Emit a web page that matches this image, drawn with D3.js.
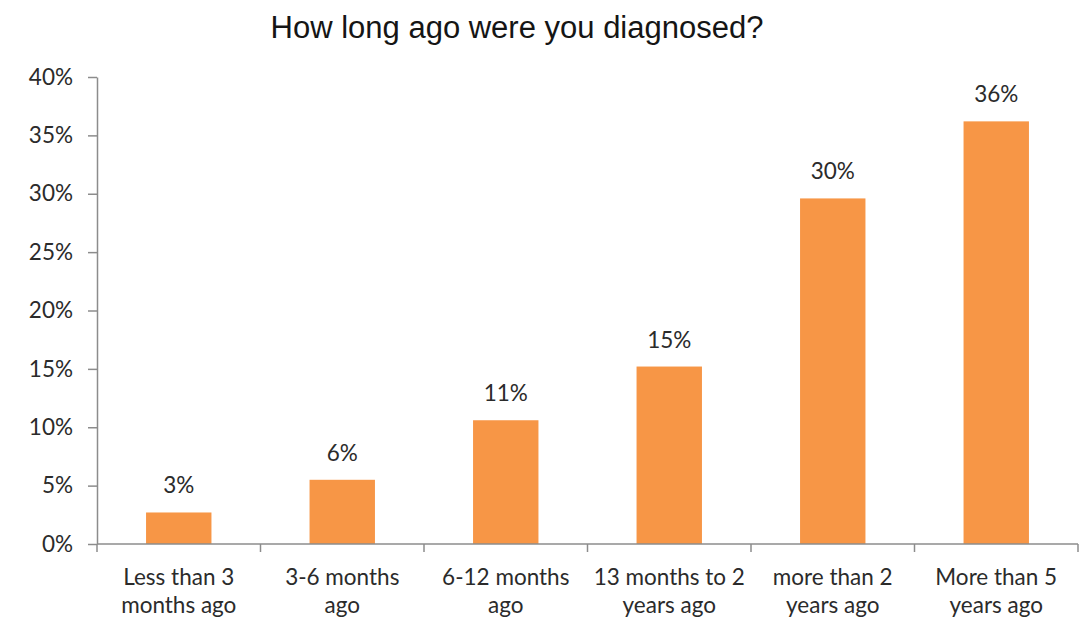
<!DOCTYPE html>
<html><head><meta charset="utf-8">
<script src="https://cdn.jsdelivr.net/npm/d3@7"></script>
<style>body{margin:0;background:#fff}svg{display:block}</style>
</head><body>
<svg id="chart" width="1089" height="620"></svg>
<script>
const title = "How long ago were you diagnosed?";
const categories = [
  ["Less than 3", "months ago"],
  ["3-6 months", "ago"],
  ["6-12 months", "ago"],
  ["13 months to 2", "years ago"],
  ["more than 2", "years ago"],
  ["More than 5", "years ago"]
];
const values = [2.7, 5.5, 10.6, 15.2, 29.6, 36.2];
const labels = ["3%", "6%", "11%", "15%", "30%", "36%"];
const yTicks = [0, 5, 10, 15, 20, 25, 30, 35, 40];

(function () {
const svg = d3.select("#chart");
const mLeft = 97, mRight = 1078, mTop = 77, mBottom = 544;
const font = "Lato, 'Open Sans', sans-serif";
const fs = 22.5;
const txt = "#2b2b2b";
const axisColor = "#8c8c8c";

const ids = d3.range(categories.length);
const x = d3.scaleBand().domain(ids).range([mLeft, mRight]).paddingInner(0.6).paddingOuter(0.3);
const xb = d3.scaleBand().domain(ids).range([mLeft, mRight]).padding(0);
const y = d3.scaleLinear().domain([0, 40]).range([mBottom, mTop]);

svg.append("text").attr("x", 517).attr("y", 38).attr("text-anchor", "middle")
  .attr("font-family", "'Liberation Sans', Arial, sans-serif").attr("font-size", 31)
  .attr("fill", "#151515").text(title);

const yAxis = svg.append("g").attr("transform", `translate(${mLeft},0)`)
  .call(d3.axisLeft(y).tickValues(yTicks).tickFormat(d => d + "%").tickSize(9).tickSizeOuter(0));
yAxis.select(".domain").attr("stroke", axisColor).attr("stroke-width", 1.5);
yAxis.selectAll(".tick line").attr("stroke", axisColor).attr("stroke-width", 1.5);
yAxis.selectAll(".tick text").attr("x", -24).attr("font-family", font).attr("font-size", fs).attr("fill", txt);

svg.append("g").selectAll("rect").data(values).join("rect")
  .attr("x", (d, i) => x(i)).attr("width", x.bandwidth())
  .attr("y", d => y(d)).attr("height", d => y(0) - y(d))
  .attr("fill", "#F79646");

svg.append("g").selectAll("text").data(values).join("text")
  .attr("x", (d, i) => x(i) + x.bandwidth() / 2).attr("y", d => y(d) - 19)
  .attr("text-anchor", "middle").attr("font-family", font).attr("font-size", fs).attr("fill", txt)
  .text((d, i) => labels[i]);

const xAxisG = svg.append("g").attr("transform", `translate(0,${mBottom})`);
xAxisG.append("line").attr("x1", mLeft).attr("x2", mRight).attr("stroke", axisColor).attr("stroke-width", 1.5);
const bounds = ids.map(i => xb(i)).concat([xb(ids.length - 1) + xb.bandwidth()]);
xAxisG.selectAll("line.t").data(bounds).join("line").attr("class", "t")
  .attr("x1", d => d).attr("x2", d => d).attr("y1", 0).attr("y2", 8)
  .attr("stroke", axisColor).attr("stroke-width", 1.5);
const lab = xAxisG.selectAll("text").data(categories).join("text")
  .attr("text-anchor", "middle").attr("font-family", font).attr("font-size", fs).attr("fill", txt)
  .attr("transform", (d, i) => `translate(${xb(i) + xb.bandwidth() / 2},0)`);
lab.selectAll("tspan").data(d => d).join("tspan").attr("x", 0).attr("y", (d, j) => 41 + j * 28).text(d => d);
})();
</script>
</body></html>
